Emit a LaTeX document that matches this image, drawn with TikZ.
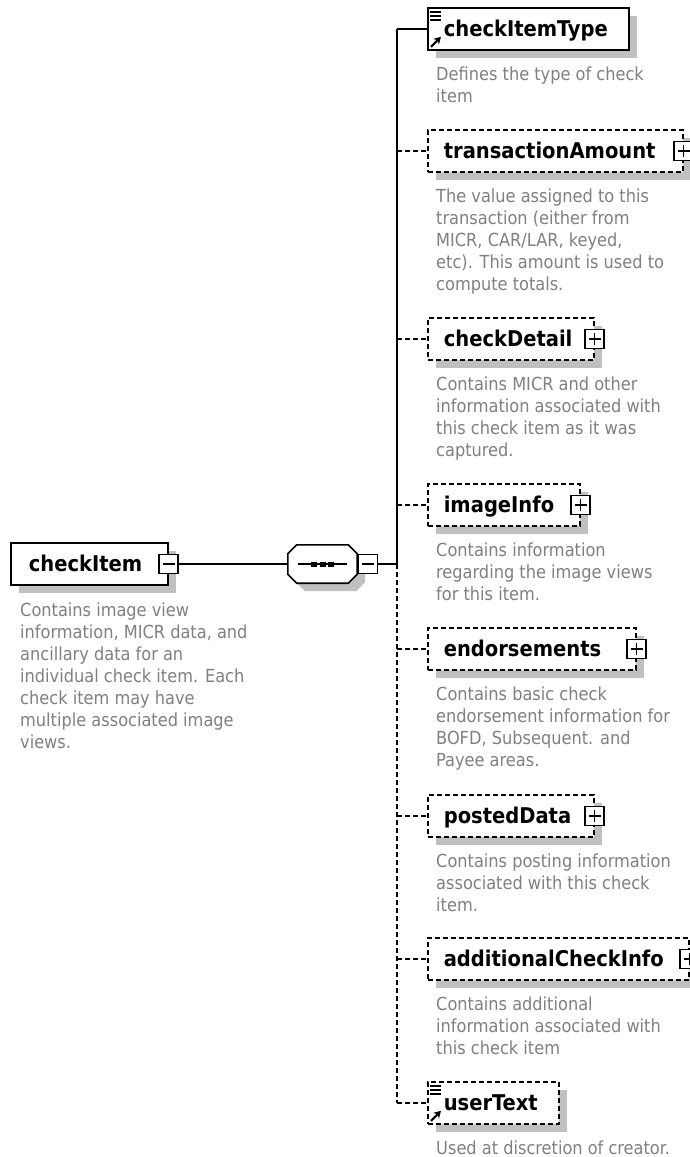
\documentclass[tikz,border=0pt]{standalone}
\usepackage{fontspec}
\setmainfont{DejaVu Sans Condensed}
\usetikzlibrary{calc,shadows,arrows.meta}
\definecolor{shadowgray}{HTML}{C0C0C0}
\definecolor{descgray}{HTML}{808080}
\newcommand{\elab}[3]{\makebox[#1pt][l]{\hspace{#2pt}#3}}
\newcommand{\dtext}[1]{\parbox[t]{260pt}{\raggedright #1}}
\tikzset{
  conn/.style={line width=1.6pt},
  optional/.style={dash pattern=on 5pt off 3pt},
  elembox/.style={draw, line width=1.6pt, fill=white, inner sep=0pt,
    minimum height=42pt, anchor=west, text height=15pt, text depth=0pt,
    font=\bfseries\fontsize{21.7}{24}\selectfont,
    general shadow={fill=shadowgray, shadow xshift=8pt, shadow yshift=-8pt}},
  plusbox/.style={draw, line width=1.4pt, fill=white, minimum size=19pt, inner sep=0pt,
    path picture={\draw[line width=1.4pt]
      ([xshift=3.5pt]path picture bounding box.west) -- ([xshift=-3.5pt]path picture bounding box.east)
      ([yshift=-3.5pt]path picture bounding box.north) -- ([yshift=3.5pt]path picture bounding box.south);}},
  minusbox/.style={draw, line width=1.4pt, fill=white, minimum size=19pt, inner sep=0pt,
    path picture={\draw[line width=1.4pt]
      ([xshift=3.5pt]path picture bounding box.west) -- ([xshift=-3.5pt]path picture bounding box.east);}},
  desc/.style={anchor=base west, inner sep=0pt, text=descgray, font=\fontsize{18}{22}\selectfont},
}
\begin{document}
\begin{tikzpicture}[x=1pt,y=-1pt]
\useasboundingbox[fill=white] (0,0) rectangle (690,1157);

% ---------- left: checkItem ----------
\node[elembox] (ci) at (10,564) {\elab{157}{18}{checkItem}};
\node[minusbox] (cim) at (ci.east) {};
\node[desc] (cid) at (20,616) {\dtext{Contains image view\\information, MICR data, and\\ancillary data for an\\individual check item. Each\\check item may have\\multiple associated image\\views.}};

% ---------- sequence compositor ----------
\node[inner sep=0pt, minimum width=69pt, minimum height=38pt] (seq) at (322.5,564) {};
\draw[conn, fill=white, general shadow={fill=shadowgray, shadow xshift=8pt, shadow yshift=-8pt}]
  ($(seq.north west)+(9,0)$) -- ($(seq.north east)+(-9,0)$) -- ($(seq.north east)+(0,9)$)
  -- ($(seq.south east)+(0,-9)$) -- ($(seq.south east)+(-9,0)$) -- ($(seq.south west)+(9,0)$)
  -- ($(seq.south west)+(0,-9)$) -- ($(seq.north west)+(0,9)$) -- cycle;
\draw[conn] ($(seq.west)+(10,0)$) -- ($(seq.east)+(-10,0)$);
\foreach \dx in {-8.5,0,8.5}{
  \fill ($(seq.center)+(\dx,0)+(-3,-2.5)$) rectangle ($(seq.center)+(\dx,0)+(3,2.5)$);
}
\node[minusbox] (seqm) at ($(seq.east)+(10.5,0)$) {};
\draw[conn] (cim.east) -- (seq.west);

% ---------- spine ----------
\coordinate (sptop) at (397,29);
\coordinate (spmid) at (397,564);
\coordinate (spbot) at (397,1103);
\draw[conn] (seqm.east) -- (spmid);
\draw[conn] (sptop) -- (spmid);
\draw[conn, optional] (spmid) -- (spbot);

% ---------- children ----------
% checkItemType
\node[elembox] (cit) at (427,29) {\elab{201}{16}{checkItemType}};
\draw[conn] (sptop) -- (cit.west);
\node[desc] (citd) at (436,80) {\dtext{Defines the type of check\\item}};

% transactionAmount
\node[elembox, optional] (ta) at (427,151) {\elab{255}{16}{transactionAmount}};
\node[plusbox] (tap) at (ta.east) {};
\draw[conn, optional] (ta.west -| sptop) -- (ta.west);
\node[desc] (tad) at (436,202) {\dtext{The value assigned to this\\transaction (either from\\MICR, CAR/LAR, keyed,\\etc). This amount is used to\\compute totals.}};

% checkDetail
\node[elembox, optional] (cd) at (427,339) {\elab{166}{16}{checkDetail}};
\node[plusbox] (cdp) at (cd.east) {};
\draw[conn, optional] (cd.west -| sptop) -- (cd.west);
\node[desc] (cdd) at (436,390) {\dtext{Contains MICR and other\\information associated with\\this check item as it was\\captured.}};

% imageInfo
\node[elembox, optional] (ii) at (427,505) {\elab{152}{16}{imageInfo}};
\node[plusbox] (iip) at (ii.east) {};
\draw[conn, optional] (ii.west -| sptop) -- (ii.west);
\node[desc] (iid) at (436,556) {\dtext{Contains information\\regarding the image views\\for this item.}};

% endorsements
\node[elembox, optional] (en) at (427,649) {\elab{208}{16}{endorsements}};
\node[plusbox] (enp) at (en.east) {};
\draw[conn, optional] (en.west -| sptop) -- (en.west);
\node[desc] (end) at (436,700) {\dtext{Contains basic check\\endorsement information for\\BOFD, Subsequent. and\\Payee areas.}};

% postedData
\node[elembox, optional] (pd) at (427,816) {\elab{166}{16}{postedData}};
\node[plusbox] (pdp) at (pd.east) {};
\draw[conn, optional] (pd.west -| sptop) -- (pd.west);
\node[desc] (pdd) at (436,867) {\dtext{Contains posting information\\associated with this check\\item.}};

% additionalCheckInfo
\node[elembox, optional] (ac) at (427,959) {\elab{261}{16}{additionalCheckInfo}};
\node[plusbox] (acp) at (ac.east) {};
\draw[conn, optional] (ac.west -| sptop) -- (ac.west);
\node[desc] (acd) at (436,1010) {\dtext{Contains additional\\information associated with\\this check item}};

% userText
\node[elembox, optional] (ut) at (427,1103) {\elab{131}{16}{userText}};
\draw[conn, optional] (spbot) -- (ut.west);
\node[desc] (utd) at (436,1154) {\dtext{Used at discretion of creator.}};

% reference marks (list lines + arrow)
\foreach \n in {cit,ut}{
  \foreach \dy in {5,9,13}{
    \draw[line width=2pt] ($(\n.north west)+(3,\dy)$) -- ($(\n.north west)+(14,\dy)$);
  }
  \draw[line width=2.2pt, -{Stealth[length=7pt,width=8pt]}] ($(\n.south west)+(4,-4)$) -- ($(\n.south west)+(14,-14)$);
}
\end{tikzpicture}
\end{document}
